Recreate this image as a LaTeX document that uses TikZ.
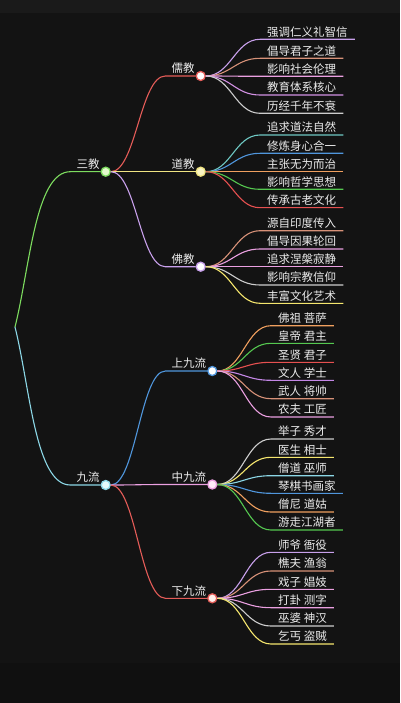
\documentclass[tikz,border=0pt]{standalone}
\usepackage{fontspec}
\setmainfont{Noto Sans CJK SC}
\usepackage{tikz}
\definecolor{bgC}{RGB}{19,19,19}
\definecolor{bgTop}{RGB}{26,26,26}
\definecolor{bgBot}{RGB}{16,16,16}
\definecolor{txtC}{RGB}{236,236,236}
\definecolor{cGreen}{RGB}{125,220,95}
\definecolor{cCyan}{RGB}{140,215,230}
\definecolor{cRed}{RGB}{228,92,88}
\definecolor{cYel}{RGB}{240,228,130}
\definecolor{cLav}{RGB}{200,160,235}
\definecolor{cSal}{RGB}{215,145,120}
\definecolor{cPink}{RGB}{235,160,225}
\definecolor{cGrey}{RGB}{205,205,205}
\definecolor{cTeal}{RGB}{110,200,195}
\definecolor{cBlue}{RGB}{80,150,220}
\definecolor{cOrg}{RGB}{240,160,95}
\definecolor{cGrn}{RGB}{85,200,80}
\definecolor{cRed2}{RGB}{230,80,80}
\definecolor{cYel2}{RGB}{245,230,110}
\definecolor{cPurp}{RGB}{195,135,230}

\begin{document}
\begin{tikzpicture}[
	x=1pt, y=-1pt,
	lbl/.style={
		text=txtC, font=\fontsize{11.5}{13}\selectfont,
		inner xsep=6pt, inner ysep=2pt, anchor=south east
	},
	leaf/.style={
		text=txtC, font=\fontsize{11.5}{13}\selectfont,
		inner xsep=7pt, inner ysep=2pt, anchor=south west
	},
	dot/.style={
		circle, minimum size=9pt, inner sep=0pt, line width=1.3pt, fill=white
	},
	br/.style={line width=1.1pt}
	]
	\fill[bgC] (0,0) rectangle (400,703);
	\fill[bgTop] (0,0) rectangle (400,13);
	\fill[bgBot] (0,663) rectangle (400,703);

	% root and first level
	\coordinate (root) at (15,327);
	\node[dot,draw=cGreen,fill={rgb,255:red,228;green,250;blue,205}] (sanC) at (105.7,171.7) {};
	\node[lbl] (san) at (sanC.center) {三教};
	\node[dot,draw=cCyan,fill={rgb,255:red,228;green,250;blue,250}] (jiuC) at (105.7,485) {};
	\node[lbl] (jiu) at (jiuC.center) {九流};

	% second level
	\node[dot,draw=cRed] (ruC) at (200.7,76) {};
	\node[lbl] (ru) at (ruC.center) {儒教};
	\node[dot,draw=cYel,fill={rgb,255:red,250;green,245;blue,195}] (daoC) at (200.7,171.7) {};
	\node[lbl] (dao) at (daoC.center) {道教};
	\node[dot,draw=cLav] (foC) at (200.7,266.7) {};
	\node[lbl] (fo) at (foC.center) {佛教};
	\node[dot,draw=cBlue] (shangC) at (212.3,371) {};
	\node[lbl] (shang) at (shangC.center) {上九流};
	\node[dot,draw=cPink,fill={rgb,255:red,255;green,235;blue,250}] (zhongC) at (212.3,484.5) {};
	\node[lbl] (zhong) at (zhongC.center) {中九流};
	\node[dot,draw=cRed,fill={rgb,255:red,255;green,240;blue,235}] (xiaC) at (212.3,598.3) {};
	\node[lbl] (xia) at (xiaC.center) {下九流};

	\draw[br,cGreen] (root) .. controls +(15,-60) and +(-35,0) .. (san.south west) -- (sanC.west);
	\draw[br,cCyan] (root) .. controls +(15,60) and +(-35,0) .. (jiu.south west) -- (jiuC.west);

	\foreach \p/\q/\c in {sanC/ru/cRed,sanC/dao/cYel,sanC/fo/cLav,jiuC/shang/cBlue,jiuC/zhong/cPink,jiuC/xia/cRed}
	\draw[br,\c] (\p.east) .. controls +(25,0) and +(-25,0) .. (\q.south west) -- (\q C.west);

	% leaves
	\foreach \i/\t/\y/\c in {1/强调仁义礼智信/39.3/cLav,2/倡导君子之道/58.3/cSal,3/影响社会伦理/76.3/cPink,4/教育体系核心/95/cPurp!60!cPink,5/历经千年不衰/113.3/cGrey}{
		\node[leaf] (ru\i) at (260,\y) {\t};
		\draw[br,\c] (ruC.east) .. controls +(25,0) and +(-25,0) .. (ru\i.south west) -- (ru\i.south east);
	}
	\foreach \i/\t/\y/\c in {1/追求道法自然/135/cTeal,2/修炼身心合一/153.3/cBlue,3/主张无为而治/171.7/cOrg,4/影响哲学思想/189.3/cGrn,5/传承古老文化/207.7/cRed2}{
		\node[leaf] (dao\i) at (260,\y) {\t};
		\draw[br,\c] (daoC.east) .. controls +(25,0) and +(-25,0) .. (dao\i.south west) -- (dao\i.south east);
	}
	\foreach \i/\t/\y/\c in {1/源自印度传入/230.7/cSal,2/倡导因果轮回/249/cPink,3/追求涅槃寂静/266.7/cPink,4/影响宗教信仰/285/cGrey,5/丰富文化艺术/303.3/cYel2}{
		\node[leaf] (fo\i) at (260,\y) {\t};
		\draw[br,\c] (foC.east) .. controls +(25,0) and +(-25,0) .. (fo\i.south west) -- (fo\i.south east);
	}
	\foreach \i/\t/\y/\c in {1/佛祖 菩萨/325.7/cOrg,2/皇帝 君主/343.3/cGrn,3/圣贤 君子/362.3/cRed2,4/文人 学士/380.3/cPurp,5/武人 将帅/398.7/cSal,6/农夫 工匠/417/cPink}{
		\node[leaf] (shang\i) at (271,\y) {\t};
		\draw[br,\c] (shangC.east) .. controls +(25,0) and +(-25,0) .. (shang\i.south west) -- (shang\i.south east);
	}
	\foreach \i/\t/\y/\c in {1/举子 秀才/439/cGrey,2/医生 相士/457.3/cYel2,3/僧道 巫师/475.7/cCyan,4/琴棋书画家/493.3/cBlue,5/僧尼 道姑/512/cOrg,6/游走江湖者/530/cGrn}{
		\node[leaf] (zhong\i) at (271,\y) {\t};
		\draw[br,\c] (zhongC.east) .. controls +(25,0) and +(-25,0) .. (zhong\i.south west) -- (zhong\i.south east);
	}
	\foreach \i/\t/\y/\c in {1/师爷 衙役/552.3/cLav,2/樵夫 渔翁/571/cSal,3/戏子 娼妓/589.3/cPink,4/打卦 测字/607.7/cPink,5/巫婆 神汉/626/cGrey,6/乞丐 盗贼/644/cYel2}{
		\node[leaf] (xia\i) at (271,\y) {\t};
		\draw[br,\c] (xiaC.east) .. controls +(25,0) and +(-25,0) .. (xia\i.south west) -- (xia\i.south east);
	}
\end{tikzpicture}
\end{document}
